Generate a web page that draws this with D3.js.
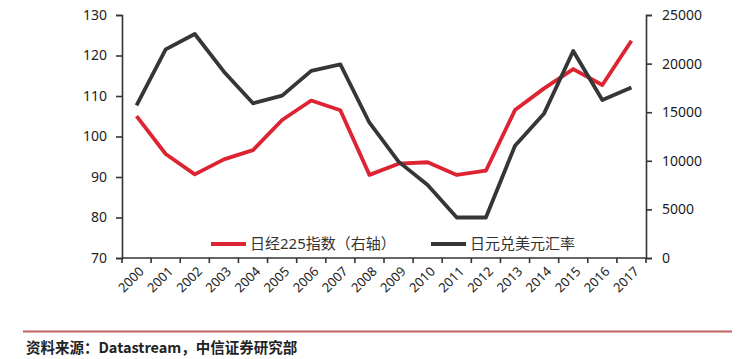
<!DOCTYPE html>
<html><head><meta charset="utf-8">
<script src="https://cdn.jsdelivr.net/npm/d3@7"></script>
<style>
body{margin:0;background:#fff;}
svg{display:block;}
</style></head>
<body><svg id="c" width="746" height="359"></svg>
<script>
const years = ["2000","2001","2002","2003","2004","2005","2006","2007","2008","2009","2010","2011","2012","2013","2014","2015","2016","2017"];
const nikkei = [14600,10700,8600,10150,11100,14200,16200,15200,8550,9700,9850,8540,8980,15220,17450,19440,17800,22350];
const usdjpy = [107.7,121.5,125.3,116.0,108.2,110.1,116.2,117.8,103.4,93.8,88.0,80.0,80.0,97.7,105.7,121.1,109.0,112.1];
const leftTicks = [70,80,90,100,110,120,130];
const rightTicks = [0,5000,10000,15000,20000,25000];
const seriesNames = ["日经225指数（右轴）","日元兑美元汇率"];
const source = "资料来源：Datastream，中信证券研究部";

const svg = d3.select("#c");
const L = 122, R = 646, T = 15, B = 258;
const font = "'Noto Sans','Noto Sans CJK SC',sans-serif";
const axisColor = "#333";
const red = "#dc2433", black = "#363636";

const x = d3.scaleBand().domain(years).range([L, R]);
const yL = d3.scaleLinear().domain([70,130]).range([B, T]);
const yR = d3.scaleLinear().domain([0,25000]).range([B, T]);

// axes
const gl = svg.append("g").attr("transform",`translate(${L},0)`)
  .call(d3.axisLeft(yL).tickValues(leftTicks).tickSize(6).tickPadding(9));
const gr = svg.append("g").attr("transform",`translate(${R},0)`)
  .call(d3.axisRight(yR).tickValues(rightTicks).tickFormat(d3.format("d")).tickSize(6).tickPadding(10));
[gl,gr].forEach(g=>{
  g.select(".domain").attr("stroke",axisColor).attr("stroke-width",1.6);
  g.selectAll(".tick line").attr("stroke",axisColor).attr("stroke-width",1.6);
  g.selectAll(".tick text").attr("fill","#222").style("font-family",font).style("font-size","14px");
});

// bottom axis with ticks at band boundaries
const gb = svg.append("g");
gb.append("line").attr("x1",L).attr("x2",R).attr("y1",B).attr("y2",B).attr("stroke",axisColor).attr("stroke-width",1.6);
const bounds = years.map(d=>x(d)).concat([R]);
gb.selectAll("line.tk").data(bounds).join("line").attr("class","tk")
  .attr("x1",d=>d).attr("x2",d=>d).attr("y1",B).attr("y2",B+5)
  .attr("stroke",axisColor).attr("stroke-width",1.6);
gb.selectAll("text").data(years).join("text")
  .attr("transform",d=>`translate(${x(d)+x.bandwidth()/2+5},${B+11}) rotate(-45)`)
  .attr("text-anchor","end").attr("dy","0.35em")
  .style("font-family",font).style("font-size","13px").attr("fill","#222")
  .text(d=>d);

// lines
const lineR = d3.line().x((d,i)=>x(years[i])+x.bandwidth()/2).y(d=>yR(d));
const lineL = d3.line().x((d,i)=>x(years[i])+x.bandwidth()/2).y(d=>yL(d));
svg.append("path").datum(nikkei).attr("d",lineR).attr("fill","none")
  .attr("stroke",red).attr("stroke-width",3.8).attr("stroke-linejoin","round");
svg.append("path").datum(usdjpy).attr("d",lineL).attr("fill","none")
  .attr("stroke",black).attr("stroke-width",3.8).attr("stroke-linejoin","round");

// legend
const leg = [{x:211,c:red,t:seriesNames[0]},{x:431,c:black,t:seriesNames[1]}];
leg.forEach(l=>{
  svg.append("line").attr("x1",l.x).attr("x2",l.x+35).attr("y1",244).attr("y2",244)
    .attr("stroke",l.c).attr("stroke-width",4);
  svg.append("text").attr("x",l.x+39).attr("y",244).attr("dy","0.35em")
    .style("font-family",font).style("font-size","15px").attr("fill","#333").text(l.t);
});

// footer
svg.append("line").attr("x1",23).attr("x2",732).attr("y1",331.5).attr("y2",331.5)
  .attr("stroke","#c0625e").attr("stroke-width",2);
svg.append("text").attr("x",26).attr("y",348).attr("dy","0.35em")
  .style("font-family","'Noto Sans CJK SC',sans-serif").style("font-size","14.5px").style("font-weight","bold")
  .attr("fill","#222").text(source);
</script></body></html>
